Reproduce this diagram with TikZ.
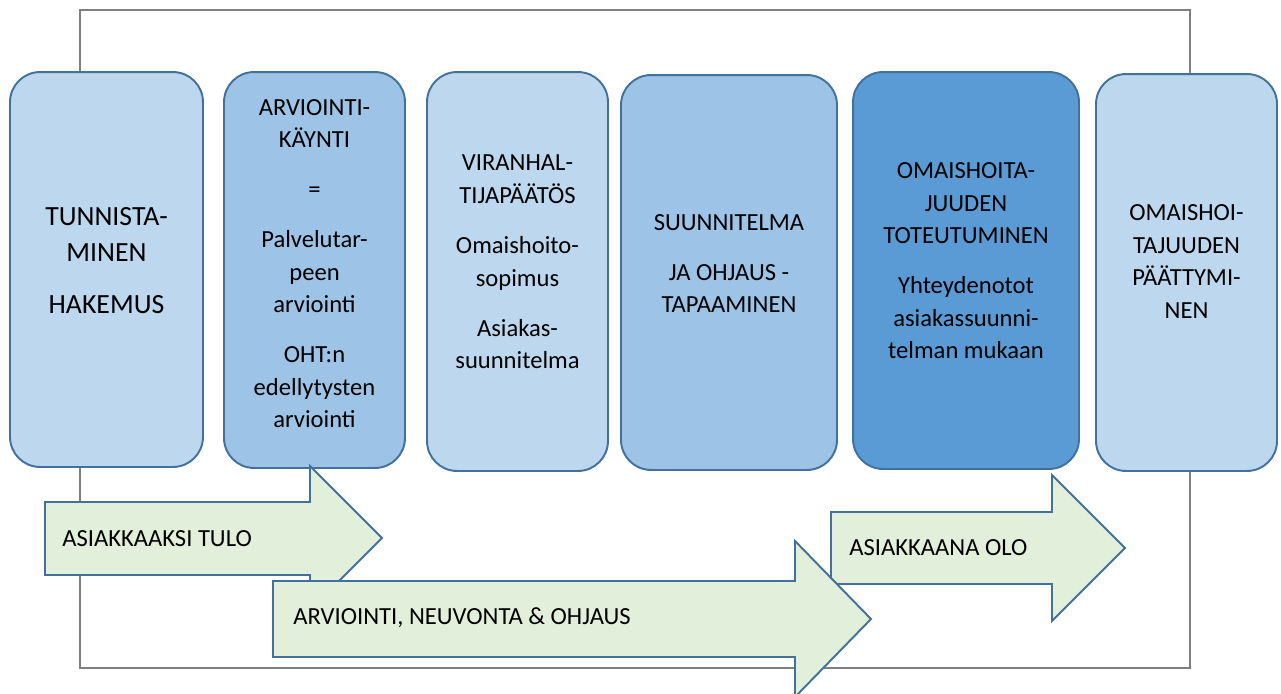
\documentclass[tikz,border=0pt]{standalone}
\usepackage{fontspec}
\setmainfont{Carlito}
\definecolor{vaalea}{HTML}{BDD7EE}
\definecolor{keski}{HTML}{9DC3E6}
\definecolor{tumma}{HTML}{5B9BD5}
\definecolor{reuna}{HTML}{41719C}
\definecolor{nuolivari}{HTML}{E2EFDA}
\definecolor{kehys}{HTML}{7F7F7F}

\begin{document}
\begin{tikzpicture}[x=0.02cm,y=-0.02cm,
    laatikko/.style={draw=reuna,line width=1.1pt,rounded corners=0.6cm,inner sep=0pt},
    teksti/.style={align=center,inner sep=0pt,font=\fontsize{14}{18.5}\selectfont},
    isoteksti/.style={align=center,inner sep=0pt,font=\fontsize{15.8}{20}\selectfont},
    nuoli/.style={draw=reuna,line width=1.1pt,fill=nuolivari},
    nuoliteksti/.style={anchor=west,inner sep=0pt,font=\fontsize{14}{18.5}\selectfont}]

        \useasboundingbox (0,0) rectangle (1281,693);

        \draw[kehys,line width=0.6pt] (80,10) rectangle (1190,668);

        \node[laatikko,fill=vaalea,minimum width=3.86cm,minimum height=7.9cm] (tunnistaminen) at (106.5,269.5) {};
        \node[laatikko,fill=keski,minimum width=3.62cm,minimum height=7.92cm] (arviointikaynti) at (314.5,270) {};
        \node[laatikko,fill=vaalea,minimum width=3.62cm,minimum height=7.98cm] (paatos) at (517.5,271.5) {};
        \node[laatikko,fill=keski,minimum width=4.32cm,minimum height=7.9cm] (suunnitelma) at (729,272.5) {};
        \node[laatikko,fill=tumma,minimum width=4.52cm,minimum height=7.94cm] (toteutuminen) at (966,270.5) {};
        \node[laatikko,fill=vaalea,minimum width=3.62cm,minimum height=7.94cm] (paattyminen) at (1186.5,272.5) {};

        \node[isoteksti] (tunnistaminen-t) at (106.5,261) {TUNNISTA-\\MINEN\\[10pt]HAKEMUS};
        \node[teksti] (arviointikaynti-t) at (314.5,263.5) {ARVIOINTI-\\KÄYNTI\\[10pt]=\\[10pt]Palvelutar-\\peen\\arviointi\\[10pt]OHT:n\\edellytysten\\arviointi};
        \node[teksti] (paatos-t) at (517.5,262) {VIRANHAL-\\TIJAPÄÄTÖS\\[10pt]Omaishoito-\\sopimus\\[10pt]Asiakas-\\suunnitelma};
        \node[teksti] (suunnitelma-t) at (729,263.5) {SUUNNITELMA\\[10pt]JA OHJAUS -\\TAPAAMINEN};
        \node[teksti] (toteutuminen-t) at (966,261) {OMAISHOITA-\\JUUDEN\\TOTEUTUMINEN\\[10pt]Yhteydenotot\\asiakassuunni-\\telman mukaan};
        \node[teksti] (paattyminen-t) at (1186.5,261.5) {OMAISHOI-\\TAJUUDEN\\PÄÄTTYMI-\\NEN};

        \draw[nuoli] (45,502) -- (310,502) -- (310,466) -- (382,538) -- (310,610) -- (310,575) -- (45,575) -- cycle;
        \draw[nuoli] (831,512) -- (1052,512) -- (1052,475) -- (1125,548) -- (1052,621) -- (1052,584) -- (831,584) -- cycle;
        \draw[nuoli] (273,581) -- (795,581) -- (795,541) -- (871,619) -- (795,697) -- (795,657) -- (273,657) -- cycle;

        \node[nuoliteksti] (tulo) at (62,539) {ASIAKKAAKSI TULO};
        \node[nuoliteksti] (olo) at (849,548) {ASIAKKAANA OLO};
        \node[nuoliteksti] (ohjaus) at (293,618) {ARVIOINTI, NEUVONTA \& OHJAUS};

\end{tikzpicture}
\end{document}
